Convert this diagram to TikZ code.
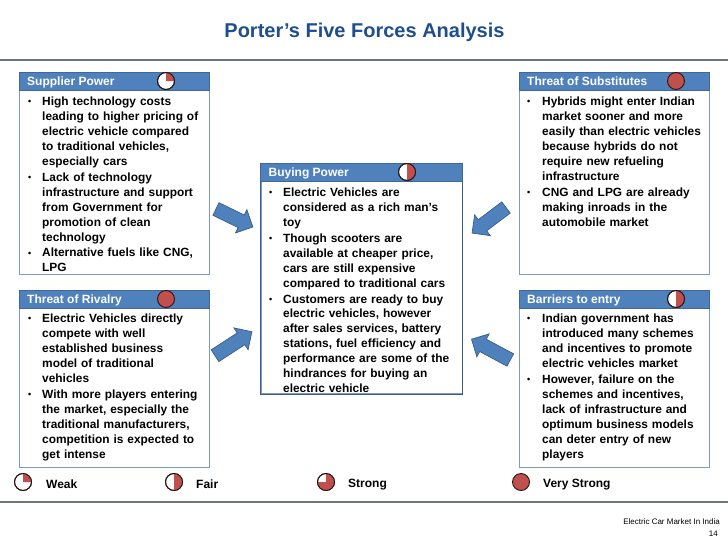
\documentclass[tikz,border=0pt]{standalone}
\usepackage{fontspec}
\setmainfont{Liberation Sans}
\definecolor{hdr}{HTML}{4F81BD}
\definecolor{hdrline}{HTML}{3F6797}
\definecolor{boxline}{HTML}{7C9BC2}
\definecolor{innerline}{HTML}{385D8A}
\definecolor{pie}{HTML}{C0504D}
\definecolor{pieline}{HTML}{2A1414}
\definecolor{titleblue}{HTML}{1F4E8C}
\definecolor{rulegrey}{HTML}{6F7478}
\newcommand{\bodyfont}{\fontsize{11.9}{14.95}\selectfont\bfseries}
\newcommand{\bl}[1]{\par\vspace{0.9pt}\hangindent=#1\hangafter=1\noindent\makebox[#1][l]{\raisebox{0.6pt}{\fontsize{9}{9}\selectfont •}}\ignorespaces}
\tikzset{
  x=1pt,y=-1pt,
  panel/.style={draw=boxline,line width=1pt,fill=white,inner sep=0,anchor=north west},
  headbar/.style={draw=hdrline,line width=.8pt,fill=hdr,inner sep=0,anchor=north west,minimum height=18pt},
  headtext/.style={inner sep=0,anchor=base west,text=white,font=\fontsize{12}{14}\selectfont\bfseries},
  bodytext/.style={inner sep=0,anchor=north west,font=\bodyfont,align=left,text=black},
  harvey/.style={circle,draw=pieline,line width=.9pt,fill=white,minimum size=17pt,inner sep=0},
  forcearrow/.style={draw=innerline,line width=.7pt,fill=hdr,line join=miter},
  legendtext/.style={inner sep=0,anchor=west,font=\fontsize{12}{14}\selectfont\bfseries},
  rulestyle/.style={draw=rulegrey,line width=1.4pt}
}
\newcommand{\ball}[4]{% name, x, y, end angle
  \node[harvey] (#1) at (#2,#3) {};
  \fill[pie] (#1.center) -- ++(0,-8.1) arc[start angle=-90,end angle=#4,radius=8.1] -- cycle;
  \draw[pieline,line width=.9pt] (#1.center) circle[radius=8.5];
}
\newcommand{\fullball}[3]{%
  \node[harvey,fill=pie] (#1) at (#2,#3) {};
}
\newcommand{\panelbox}[6]{% name,x,y,w,h,title
  \node[panel,minimum width=#4pt,minimum height=#5pt] (#1) at (#2,#3) {};
  \node[headbar,minimum width=#4pt] (#1h) at (#2,#3) {};
  \node[headtext] (#1l) at ([xshift=8pt,yshift=-13.2pt]#1h.north west) {#6};
}
\newcommand{\blockarrow}[4]{% tail x, tail y, rotation, length
  \draw[forcearrow,shift={(#1,#2)},rotate=#3] (0,-7) -- (#4-13,-7) -- (#4-13,-13) -- (#4,0) -- (#4-13,13) -- (#4-13,7) -- (0,7) -- cycle;
}
\begin{document}
\begin{tikzpicture}
\useasboundingbox (0,0) rectangle (728,546);
\coordinate (ruleTL) at (0,60); \coordinate (ruleTR) at (728,60);
\coordinate (ruleBL) at (0,502); \coordinate (ruleBR) at (728,502);
\draw[rulestyle] (ruleTL) -- (ruleTR);
\draw[rulestyle] (ruleBL) -- (ruleBR);
\node[font=\fontsize{20}{22}\selectfont\bfseries,text=titleblue,inner sep=0] (title) at (364.5,32) {Porter’s Five Forces Analysis};

\panelbox{sup}{19}{72}{190}{202}{Supplier Power}
\panelbox{sub}{519}{72}{190}{202}{Threat of Substitutes}
\panelbox{riv}{19}{290}{190}{177}{Threat of Rivalry}
\panelbox{bar}{519}{290}{190}{177}{Barriers to entry}
\panelbox{buy}{260.5}{163}{201}{230}{Buying Power}
\draw[innerline,line width=1pt] (buy.north west) rectangle (buy.south east);
\draw[hdrline,line width=.8pt,fill=hdr] (buyh.north west) rectangle (buyh.south east);
\node[headtext] (buyt) at ([xshift=8pt,yshift=-13.2pt]buyh.north west) {Buying Power};

\node[bodytext,text width=180pt] (supt) at (28,89.5) {\bl{14pt}High technology costs\newline leading to higher pricing of\newline electric vehicle compared\newline to traditional vehicles,\newline especially cars
\bl{14pt}Lack of technology\newline infrastructure  and support\newline from Government for\newline promotion of clean\newline technology
\bl{14pt}Alternative fuels like CNG,\newline LPG\par};
\node[bodytext,text width=180pt] (subt) at (527,89.5) {\bl{15pt}Hybrids might enter Indian\newline market sooner and more\newline easily than electric vehicles\newline because hybrids do not\newline require new refueling\newline infrastructure
\bl{15pt}CNG and LPG are already\newline making inroads in the\newline automobile market\par};
\node[bodytext,text width=180pt] (rivt) at (28,306.5) {\bl{14pt}Electric Vehicles directly\newline compete with well\newline established business\newline model of traditional\newline vehicles
\bl{14pt}With more players entering\newline the market, especially the\newline traditional manufacturers,\newline competition is expected to\newline get intense\par};
\node[bodytext,text width=180pt] (bart) at (527,306.5) {\bl{15pt}Indian government has\newline introduced many schemes\newline and incentives to promote\newline electric vehicles market
\bl{15pt}However, failure on the\newline schemes and incentives,\newline lack of infrastructure and\newline optimum business models\newline can deter entry of new\newline players\par};
\node[bodytext,text width=190pt] (buyb) at (269,180.5) {\bl{14pt}Electric Vehicles are\newline considered as a rich man’s\newline toy
\bl{14pt}Though scooters are\newline available at cheaper price,\newline cars are still expensive\newline compared to traditional cars
\bl{14pt}Customers are ready to buy\newline electric vehicles, however\newline after sales services, battery\newline stations, fuel efficiency and\newline performance are some of the\newline hindrances for buying an\newline electric vehicle\par};

\ball{psup}{166}{81}{0}
\fullball{psub}{676}{81}
\fullball{priv}{166}{299}
\ball{pbar}{676}{299}{90}
\ball{pbuy}{407}{172}{90}

\blockarrow{216}{209}{-26}{41}
\blockarrow{506}{207.5}{-143}{42.5}
\blockarrow{215}{355.7}{33}{44}
\blockarrow{510.3}{360}{151.8}{44}

\ball{l1}{23}{482}{0}
\ball{l2}{174}{482}{90}
\ball{l3}{326}{482}{180}
\fullball{l4}{521}{482}
\node[legendtext] (t1) at (46,484.5) {Weak};
\node[legendtext] (t2) at (196,484.5) {Fair};
\node[legendtext] (t3) at (348,484.5) {Strong};
\node[legendtext] (t4) at (543,484.5) {Very Strong};

\node[inner sep=0,anchor=east,font=\fontsize{8}{10}\selectfont] (f1) at (720,522) {Electric Car Market In India};
\node[inner sep=0,anchor=east,font=\fontsize{8}{10}\selectfont] (f2) at (718,534) {14};
\end{tikzpicture}
\end{document}
